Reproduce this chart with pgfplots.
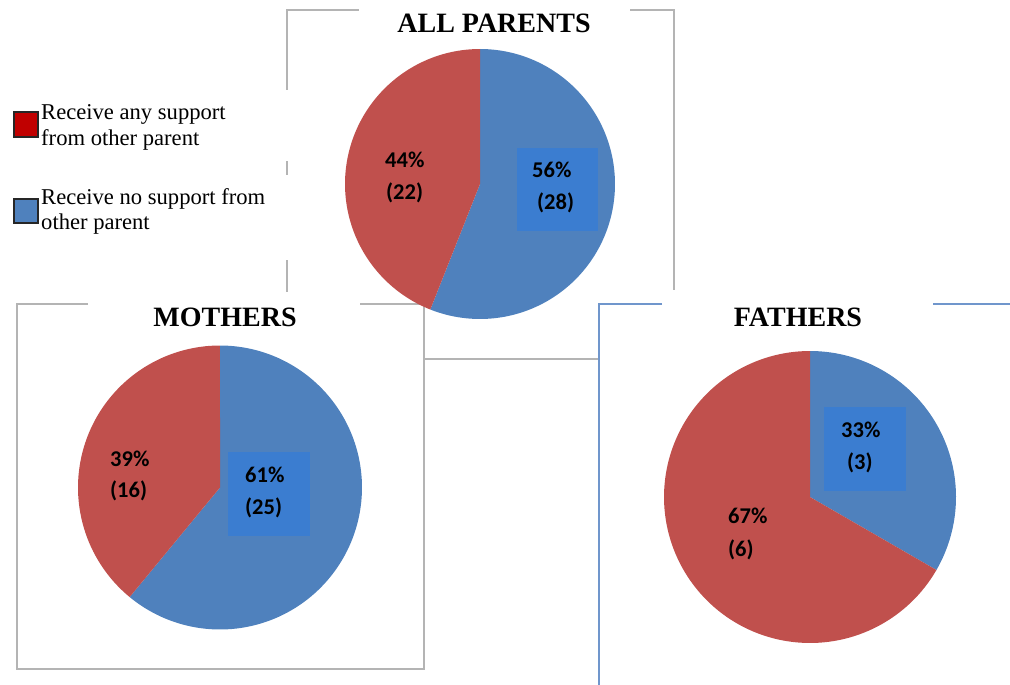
\documentclass[border=0pt]{standalone}
\usepackage{pgfplots}
\pgfplotsset{compat=1.18}
\usepackage{fontspec}
\setmainfont{Liberation Serif}
\newfontfamily\labfont{Carlito}

\definecolor{blueS}{HTML}{4F81BD}
\definecolor{redS}{HTML}{C0504D}
\definecolor{boxB}{HTML}{3B7DD0}
\definecolor{legR}{HTML}{C00000}
\definecolor{frameG}{HTML}{B4B4B4}
\definecolor{frameB}{HTML}{7096CC}

% one pie slice: cx, cy, r, from angle, to angle, colour (y grows downwards, so angles run clockwise)
\newcommand{\slice}[6]{%
  \addplot[fill=#6, draw=none, domain=#4:#5, samples=120, variable=\t]
    ({#1+#3*cos(\t)}, {#2+#3*sin(\t)}) -- (axis cs:#1,#2) -- cycle;}

\tikzset{
  lab/.style={anchor=base west, inner sep=0pt, font=\labfont\bfseries\fontsize{22.5}{25}\selectfont},
  ttl/.style={inner sep=0pt, font=\bfseries\fontsize{28}{30}\selectfont},
  leg/.style={anchor=base west, inner sep=0pt, font=\fontsize{22.6}{25}\selectfont},
}

\begin{document}
\begin{tikzpicture}
\begin{axis}[
  name=ax,
  x=1pt, y=1pt,
  xmin=0, xmax=1010, ymin=0, ymax=685,
  y dir=reverse,
  hide axis,
]
% frames
\draw[frameG, line width=1.6pt] (axis cs:287,90) -- (axis cs:287,10) -- (axis cs:359,10);
\draw[frameG, line width=1.6pt] (axis cs:630,10) -- (axis cs:674,10) -- (axis cs:674,290);
\draw[frameG, line width=1.6pt] (axis cs:287,161) -- (axis cs:287,175);
\draw[frameG, line width=1.6pt] (axis cs:287,260) -- (axis cs:287,292);
\draw[frameG, line width=1.6pt] (axis cs:424,359) -- (axis cs:598,359);
\draw[frameG, line width=1.6pt] (axis cs:88,304) -- (axis cs:17,304) -- (axis cs:17,669) -- (axis cs:424,669) -- (axis cs:424,304) -- (axis cs:360,304);
\draw[frameB, line width=1.6pt] (axis cs:662,304) -- (axis cs:599,304) -- (axis cs:599,685);
\draw[frameB, line width=1.6pt] (axis cs:933,304) -- (axis cs:1010,304);

% ALL PARENTS: 28 no support, 22 any support
\slice{480}{184}{135}{-90}{-90+360*28/50}{blueS}
\slice{480}{184}{135}{-90+360*28/50}{270}{redS}
% MOTHERS: 25 no support, 16 any support
\slice{220}{487.5}{142}{-90}{-90+360*25/41}{blueS}
\slice{220}{487.5}{142}{-90+360*25/41}{270}{redS}
% FATHERS: 3 no support, 6 any support
\slice{810}{497}{146}{-90}{-90+360*3/9}{blueS}
\slice{810}{497}{146}{-90+360*3/9}{270}{redS}

% label boxes
\fill[boxB] (axis cs:517,148) rectangle (axis cs:598,231);
\fill[boxB] (axis cs:228,452) rectangle (axis cs:310,536);
\fill[boxB] (axis cs:824,407) rectangle (axis cs:906,491);

% data labels
\node[lab] at (axis cs:385,167) {44\%};
\node[lab] at (axis cs:386,199) {(22)};
\node[lab] at (axis cs:532,177) {56\%};
\node[lab] at (axis cs:537,209) {(28)};
\node[lab] at (axis cs:110,466) {39\%};
\node[lab] at (axis cs:110,497) {(16)};
\node[lab] at (axis cs:245,482) {61\%};
\node[lab] at (axis cs:245,514) {(25)};
\node[lab] at (axis cs:841,437) {33\%};
\node[lab] at (axis cs:847,469) {(3)};
\node[lab] at (axis cs:728,523) {67\%};
\node[lab] at (axis cs:728,556) {(6)};

% titles
\node[ttl] at (axis cs:494,23) {ALL PARENTS};
\node[ttl] at (axis cs:225,317) {MOTHERS};
\node[ttl] at (axis cs:798,317) {FATHERS};

% legend
\filldraw[fill=legR, draw=black!85, line width=1.2pt] (axis cs:14,112) rectangle (axis cs:38,137);
\filldraw[fill=blueS, draw=black!85, line width=1.2pt] (axis cs:14,199) rectangle (axis cs:38,223);
\node[leg] at (axis cs:41,120) {Receive any support};
\node[leg] at (axis cs:41,145) {from other parent};
\node[leg] at (axis cs:41,204) {Receive no support from};
\node[leg] at (axis cs:41,229) {other parent};
\end{axis}
\pgfresetboundingbox
\path (ax.south west) rectangle (ax.north east);
\end{tikzpicture}
\end{document}
